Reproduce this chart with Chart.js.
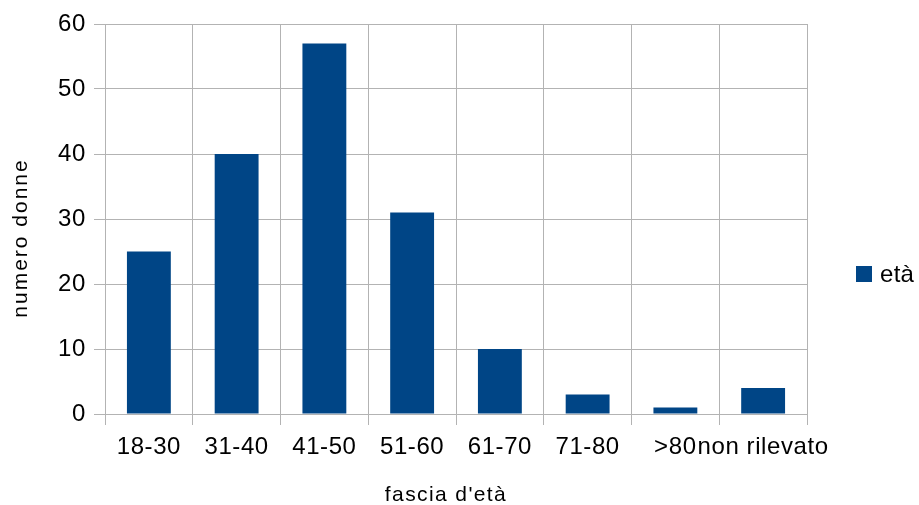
<!DOCTYPE html>
<html>
<head>
<meta charset="utf-8">
<script src="https://cdn.jsdelivr.net/npm/chart.js@4/dist/chart.umd.min.js"></script>
<style>
  html, body { margin: 0; padding: 0; background: #fff; }
  #wrap { width: 919px; height: 505px; }
</style>
</head>
<body>
<div id="wrap"><canvas id="c" width="919" height="505"></canvas></div>
<script>
// Age brackets and number of women in each
const categories = ['18-30', '31-40', '41-50', '51-60', '61-70', '71-80', '>80', 'non rilevato'];
const counts = [25, 40, 57, 31, 10, 3, 1, 4];
const seriesLabel = 'età';
const yTicks = [0, 10, 20, 30, 40, 50, 60];
const xTitle = "fascia d'età";
const yTitle = 'numero donne';

const FONT = '"Liberation Sans", Arial, sans-serif';
const BAR_COLOR = '#004586';
const GRID_COLOR = '#b3b3b3';

// Axis titles and legend, drawn with slightly wider letter spacing
const decorations = {
  id: 'decorations',
  beforeDraw(chart) {
    // a touch of tracking for the tick labels
    if ('letterSpacing' in chart.ctx) chart.ctx.letterSpacing = '0.6px';
  },
  afterDraw(chart) {
    const ctx = chart.ctx;
    const area = chart.chartArea;
    ctx.save();
    ctx.fillStyle = '#000';
    ctx.font = '21px ' + FONT;
    ctx.textAlign = 'center';

    // x title
    if ('letterSpacing' in ctx) ctx.letterSpacing = '1.4px';
    ctx.textBaseline = 'alphabetic';
    ctx.fillText(xTitle, area.left + 341, 501);

    // y title
    if ('letterSpacing' in ctx) ctx.letterSpacing = '2px';
    ctx.save();
    ctx.translate(21, area.top + 214);
    ctx.rotate(-Math.PI / 2);
    ctx.textBaseline = 'middle';
    ctx.fillText(yTitle, 0, 0);
    ctx.restore();

    // legend
    const ds = chart.data.datasets[0];
    const lx = area.right + 49, ly = area.top + 242;
    ctx.fillStyle = ds.backgroundColor;
    ctx.fillRect(lx, ly, 16, 16);
    ctx.fillStyle = '#000';
    if ('letterSpacing' in ctx) ctx.letterSpacing = '0.3px';
    ctx.font = '24px ' + FONT;
    ctx.textAlign = 'left';
    ctx.textBaseline = 'alphabetic';
    ctx.fillText(ds.label, lx + 24, ly + 16);
    ctx.restore();
    if ('letterSpacing' in ctx) ctx.letterSpacing = '0px';
  }
};

new Chart(document.getElementById('c'), {
  type: 'bar',
  data: {
    labels: categories,
    datasets: [{
      label: seriesLabel,
      data: counts,
      backgroundColor: BAR_COLOR,
      borderWidth: 0,
      barPercentage: 0.5,
      categoryPercentage: 1.0
    }]
  },
  options: {
    responsive: false,
    animation: false,
    devicePixelRatio: 1,
    layout: { padding: { top: 24, right: 112, bottom: 0, left: 0 } },
    plugins: {
      legend: { display: false },
      tooltip: { enabled: false }
    },
    scales: {
      x: {
        offset: true,
        grid: { color: GRID_COLOR, offset: true, tickLength: 11, lineWidth: 1 },
        border: { color: GRID_COLOR },
        ticks: {
          color: '#000',
          font: { family: FONT, size: 24 },
          maxRotation: 0, minRotation: 0, autoSkip: false, padding: 8
        },
        afterFit(scale) { scale.height = 91; }
      },
      y: {
        min: 0, max: 60,
        afterBuildTicks(scale) { scale.ticks = yTicks.map(v => ({ value: v })); },
        grid: { color: GRID_COLOR, tickLength: 11, lineWidth: 1 },
        border: { color: GRID_COLOR },
        ticks: {
          color: '#000',
          font: { family: FONT, size: 24 },
          padding: 8
        },
        afterFit(scale) { scale.width = 105; }
      }
    }
  },
  plugins: [decorations]
});
</script>
</body>
</html>
